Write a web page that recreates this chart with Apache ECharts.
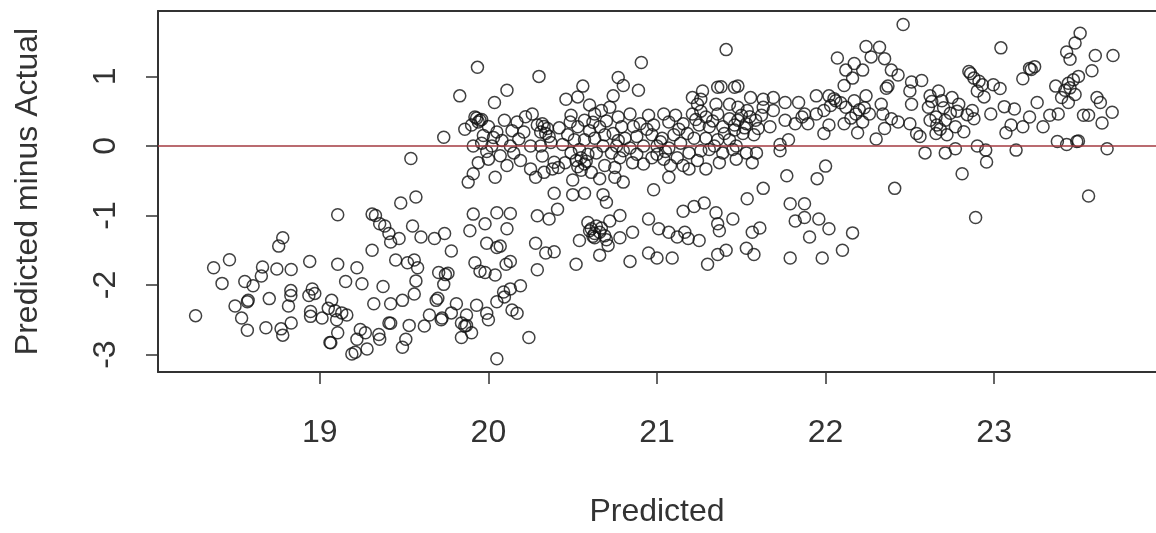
<!DOCTYPE html>
<html>
<head>
<meta charset="utf-8">
<script src="https://cdn.jsdelivr.net/npm/echarts@6/dist/echarts.min.js"></script>
<style>
  html, body { margin: 0; padding: 0; background: #ffffff; }
  #chart { width: 1156px; height: 533px; }
</style>
</head>
<body>
<div id="chart"></div>
<script>
// Residuals (predicted minus actual) against the predicted value.
// Each group is a list of [predicted, predicted - actual] pairs.

const lowFarLeft = [
  [19.106,-0.99],[18.78,-1.32],[18.756,-1.44],[18.464,-1.636],[18.37,-1.752],[18.94,-1.66],
  [19.106,-1.70],[18.66,-1.74],[18.745,-1.77],[18.83,-1.776],[18.42,-1.976],[18.555,-1.95],
  [18.604,-2.01],[18.653,-1.87],[19.153,-1.95],[18.828,-2.08],[18.828,-2.15],[18.70,-2.195],
  [18.575,-2.22],[18.57,-2.24],[18.935,-2.15],[18.97,-2.12],[18.955,-2.056],[19.07,-2.22],
  [18.497,-2.30],[18.536,-2.475],[18.57,-2.65],[18.263,-2.44],[18.814,-2.30],[18.945,-2.38],
  [18.945,-2.45],[19.013,-2.475],[19.05,-2.335],[19.09,-2.37],[19.13,-2.40],[19.16,-2.43],
  [19.10,-2.50],[19.106,-2.685],[19.06,-2.825],[19.065,-2.83],[18.68,-2.615],[18.77,-2.63],
  [18.78,-2.72],[18.83,-2.545],[19.19,-2.99]
];

const lowLeft = [
  [19.48,-0.82],[19.57,-0.735],[19.31,-0.98],[19.33,-1.0],[19.355,-1.12],[19.385,-1.15],
  [19.41,-1.26],[19.42,-1.38],[19.47,-1.33],[19.55,-1.15],[19.60,-1.31],[19.68,-1.33],
  [19.74,-1.26],[19.31,-1.50],[19.45,-1.64],[19.52,-1.68],[19.56,-1.64],[19.58,-1.75],
  [19.57,-1.94],[19.25,-1.98],[19.375,-2.02],[19.56,-2.13],[19.49,-2.22],[19.42,-2.27],
  [19.32,-2.27],[19.41,-2.545],[19.42,-2.55],[19.53,-2.58],[19.62,-2.59],[19.65,-2.43],
  [19.69,-2.22],[19.70,-2.19],[19.725,-2.475],[19.72,-2.50],[19.78,-2.40],[19.81,-2.27],
  [19.84,-2.545],[19.86,-2.59],[19.87,-2.58],[19.84,-2.755],[19.90,-2.685],[19.87,-2.43],
  [19.93,-2.29],[19.99,-2.405],[20.0,-2.50],[20.05,-2.24],[20.09,-2.10],[20.13,-2.055],
  [20.19,-2.01],[20.14,-2.36],[20.17,-2.405],[20.24,-2.755],[20.05,-3.06],[19.24,-2.64],
  [19.27,-2.685],[19.22,-2.78],[19.28,-2.92],[19.21,-2.965],[19.355,-2.78],[19.35,-2.71],
  [19.51,-2.78],[19.49,-2.895],[19.705,-1.82],[19.745,-1.85],[19.76,-1.83],[19.735,-1.99],
  [19.78,-1.51],[19.91,-0.98],[19.98,-1.12],[20.05,-0.96],[20.13,-0.97],[19.89,-1.22],
  [20.11,-1.19],[19.99,-1.40],[20.05,-1.46],[20.07,-1.44],[19.92,-1.68],[19.95,-1.80],
  [19.98,-1.82],[20.04,-1.855],[20.105,-1.70],[20.13,-1.66],[20.29,-1.005],[20.28,-1.40],
  [20.29,-1.78],[20.095,-2.17],[19.22,-1.75]
];

const bandLeft = [
  [19.935,1.13],[19.83,0.72],[20.036,0.625],[20.11,0.80],[19.735,0.126],[19.54,-0.18],
  [20.30,1.0],[19.92,0.415],[19.94,0.345],[19.93,0.40],[19.95,0.37],[19.96,0.38],[19.90,0.30],
  [19.86,0.24],[19.91,0.0],[19.96,0.04],[20.02,0.0],[20.05,0.2],[20.095,0.37],[20.0,0.28],
  [20.03,0.12],[19.99,-0.08],[20.07,-0.14],[20.13,0.0],[20.15,-0.10],[20.11,-0.28],
  [20.04,-0.45],[19.91,-0.40],[19.88,-0.52],[19.94,-0.24],[20.0,-0.19],[20.17,0.345],
  [20.26,0.46],[20.29,0.30],[20.21,0.2],[20.25,0.0],[20.19,-0.21],[20.25,-0.33],
  [20.28,-0.45],[20.22,0.42],[20.14,0.22],[20.08,0.08],[19.97,0.15],[20.18,0.10]
];

const bandMiddle = [
  [20.907,1.20],[21.41,1.385],[20.77,0.985],[20.80,0.87],[20.89,0.80],[20.56,0.86],
  [20.74,0.72],[20.46,0.67],[20.53,0.705],[21.27,0.79],[21.36,0.845],[21.38,0.85],
  [21.46,0.845],[21.24,0.60],[20.60,0.59],[20.49,0.44],[20.95,0.44],[21.04,0.46],
  [20.32,0.32],[20.35,0.25],[20.31,0.2],[20.36,0.135],[20.31,0.0],[20.32,-0.145],
  [20.39,-0.235],[20.38,-0.33],[20.33,-0.38],[20.485,0.345],[20.53,0.275],[20.57,0.37],
  [20.63,0.46],[20.67,0.51],[20.66,0.275],[20.47,0.16],[20.51,0.09],[20.57,0.09],
  [20.63,0.11],[20.54,-0.05],[20.49,-0.1],[20.59,-0.12],[20.64,-0.1],[20.52,-0.21],
  [20.57,-0.26],[20.455,-0.24],[20.415,-0.31],[20.55,-0.35],[20.50,-0.49],[20.66,-0.47],
  [20.61,-0.38],[20.69,-0.28],[20.68,0.0],[20.69,0.16],[20.72,0.555],[20.77,0.415],
  [20.84,0.46],[20.90,0.32],[20.79,0.275],[20.74,0.18],[20.81,0.11],[20.88,0.135],
  [20.76,0.0],[20.84,-0.03],[20.92,0.0],[20.78,-0.17],[20.855,-0.24],[20.88,-0.12],
  [20.75,-0.31],[20.75,-0.45],[20.80,-0.52],[20.92,-0.26],[20.98,0.30],[21.07,0.345],
  [21.155,0.32],[21.11,0.44],[20.97,0.16],[21.03,0.11],[21.10,0.16],[21.14,0.04],
  [21.0,0.0],[21.07,-0.03],[20.97,-0.17],[21.04,-0.19],[21.12,-0.17],[21.08,-0.28],
  [21.07,-0.45],[21.155,-0.28],[21.21,0.695],[21.26,0.67],[21.35,0.60],[21.43,0.60],
  [21.21,0.46],[21.29,0.415],[21.36,0.46],[21.43,0.39],[21.25,0.30],[21.31,0.275],
  [21.39,0.275],[21.46,0.23],[21.22,0.11],[21.29,0.11],[21.36,0.09],[21.43,0.09],
  [21.19,-0.10],[21.26,-0.07],[21.31,-0.05],[21.39,-0.10],[21.45,-0.05],[21.19,-0.33],
  [21.29,-0.33],[21.37,-0.24],[21.24,-0.21],[20.33,0.28],[20.34,0.18],[20.37,0.05],
  [20.55,-0.17],[20.58,-0.22],[20.53,-0.30],[20.77,0.08],[20.80,-0.07],[20.73,-0.10],
  [21.02,0.06],[21.05,-0.08],[21.0,-0.12],[21.23,0.38],[21.26,0.50],[21.33,0.36],
  [20.60,0.22],[20.44,0.02],[20.42,0.26],[20.86,0.28],[20.94,0.24],[21.13,0.24],
  [21.18,0.18],[21.40,0.18],[21.34,0.0],[20.70,0.36],[20.62,0.34]
];

const lowMiddle = [
  [20.39,-0.68],[20.50,-0.70],[20.57,-0.68],[20.68,-0.70],[20.70,-0.81],[20.98,-0.63],
  [20.41,-0.91],[20.36,-1.05],[20.59,-1.10],[20.61,-1.19],[20.64,-1.15],[20.66,-1.24],
  [20.69,-1.29],[20.72,-1.08],[20.78,-1.0],[20.78,-1.32],[20.855,-1.24],[20.54,-1.36],
  [20.63,-1.32],[20.71,-1.43],[20.66,-1.57],[20.52,-1.70],[20.84,-1.66],[20.95,-1.05],
  [21.01,-1.19],[21.07,-1.24],[21.12,-1.31],[21.165,-1.24],[21.185,-1.33],[21.25,-1.36],
  [21.155,-0.94],[21.22,-0.87],[21.28,-0.82],[21.35,-0.96],[21.36,-1.12],[21.37,-1.22],
  [21.45,-1.05],[20.95,-1.54],[21.0,-1.61],[21.09,-1.61],[21.30,-1.70],[21.36,-1.56],
  [21.41,-1.50],[20.34,-1.54],[20.39,-1.52],[20.60,-1.22],[20.63,-1.26],[20.67,-1.18],
  [20.62,-1.30],[20.70,-1.35],[21.63,-0.61],[21.535,-0.76],[21.565,-1.24],[21.61,-1.18],
  [21.53,-1.47],[21.575,-1.56],[21.79,-0.83],[21.875,-0.83],[21.875,-1.03],[21.82,-1.08],
  [21.96,-1.05],[22.02,-1.19],[21.905,-1.31],[22.16,-1.25],[21.79,-1.61],[21.98,-1.61],
  [22.10,-1.50]
];

const bandRight = [
  [22.46,1.745],[22.24,1.43],[22.32,1.42],[22.27,1.28],[22.35,1.255],[22.07,1.265],
  [22.17,1.185],[22.12,1.09],[22.22,1.09],[22.16,0.975],[22.11,0.87],[22.39,1.09],
  [22.43,1.02],[22.37,0.86],[22.36,0.83],[22.57,0.94],[22.51,0.92],[22.50,0.79],
  [22.51,0.60],[21.48,0.86],[22.62,0.72],[22.63,0.64],[21.945,0.72],[22.02,0.72],
  [22.06,0.65],[22.03,0.58],[22.24,0.72],[22.17,0.65],[22.12,0.555],[22.18,0.46],
  [22.26,0.46],[22.22,0.345],[22.11,0.32],[22.02,0.30],[21.99,0.18],[22.19,0.19],
  [22.33,0.60],[22.34,0.46],[22.39,0.39],[22.43,0.345],[22.35,0.25],[22.30,0.10],
  [22.50,0.32],[22.54,0.18],[22.56,0.135],[22.59,-0.10],[22.62,0.37],[21.76,0.625],
  [21.84,0.625],[21.875,0.46],[21.82,0.32],[21.895,0.32],[21.86,0.415],[21.69,0.695],
  [21.63,0.67],[21.555,0.695],[21.63,0.555],[21.69,0.51],[21.48,0.555],[21.535,0.51],
  [21.48,0.37],[21.53,0.32],[21.585,0.37],[21.51,0.18],[21.575,0.16],[21.67,0.275],
  [21.76,0.37],[21.78,0.09],[21.73,0.02],[21.73,-0.07],[21.47,0.0],[21.53,-0.1],
  [21.59,-0.10],[21.47,-0.19],[21.565,-0.24],[21.77,-0.43],[22.0,-0.29],[21.95,-0.47],
  [22.41,-0.61],[21.945,0.46],[21.99,0.51],[22.61,0.555],[22.655,0.18],[21.50,0.44],
  [21.52,0.26],[21.46,0.30],[21.55,0.42],[21.60,0.25],[21.62,0.44],[22.05,0.68],
  [22.09,0.62],[22.20,0.52],[22.15,0.40],[22.23,0.55]
];

const bandFarRight = [
  [23.51,1.62],[23.48,1.48],[23.43,1.35],[23.45,1.245],[23.60,1.30],[23.705,1.30],
  [23.04,1.41],[23.58,1.08],[23.50,1.0],[23.47,0.95],[23.45,0.835],[23.365,0.86],
  [23.40,0.695],[23.44,0.625],[23.48,0.74],[23.61,0.695],[23.63,0.625],[23.70,0.485],
  [23.64,0.33],[23.53,0.44],[23.56,0.44],[23.38,0.46],[23.33,0.44],[23.29,0.275],
  [23.375,0.065],[23.43,0.02],[23.49,0.065],[23.50,0.07],[23.67,-0.04],[23.21,1.115],
  [23.24,1.14],[23.17,0.965],[23.255,0.625],[23.21,0.415],[23.17,0.275],[23.10,0.30],
  [23.07,0.19],[23.13,-0.06],[23.12,0.53],[23.06,0.565],[22.98,0.46],[22.85,1.07],
  [22.88,0.975],[22.93,0.88],[22.995,0.88],[23.035,0.825],[22.90,0.79],[22.94,0.705],
  [22.67,0.79],[22.75,0.695],[22.79,0.60],[22.69,0.65],[22.87,0.51],[22.88,0.39],
  [22.82,0.205],[22.71,0.37],[22.655,0.415],[22.72,0.16],[22.77,0.275],[22.71,-0.10],
  [22.77,-0.04],[22.90,0.0],[22.95,-0.06],[22.955,-0.23],[22.81,-0.40],[23.56,-0.72],
  [22.89,-1.03],[22.86,1.04],[22.91,0.93],[23.22,1.10],[23.44,0.90],[23.42,0.80],
  [22.70,0.55],[22.74,0.47],[22.66,0.30],[22.84,0.45],[22.78,0.50],[22.68,0.24]
];

const xTickValues = [19, 20, 21, 22, 23];
const yTickValues = [-3, -2, -1, 0, 1];
const referenceLevel = 0;

const points = [].concat(lowFarLeft, lowLeft, bandLeft, bandMiddle, lowMiddle, bandRight, bandFarRight);

const FONT = '"Liberation Sans", Arial, Helvetica, sans-serif';
const INK = '#333333';
const textStyle = { fontFamily: FONT, fontSize: 32, color: '#333333' };

const chart = echarts.init(document.getElementById('chart'), null, { renderer: 'canvas' });

chart.setOption({
  animation: false,
  backgroundColor: '#ffffff',
  grid: { left: 158, right: -16, top: 11, bottom: 150, containLabel: false },
  xAxis: [
    {
      type: 'value',
      min: 18.04,
      max: 23.96,
      position: 'bottom',
      name: 'Predicted',
      nameLocation: 'middle',
      nameGap: 124,
      nameTextStyle: textStyle,
      axisLine: { show: true, onZero: false, lineStyle: { color: INK, width: 2 } },
      axisTick: { show: true, length: 12, customValues: xTickValues, lineStyle: { color: INK, width: 1.5 } },
      axisLabel: Object.assign({ customValues: xTickValues, margin: 45 }, textStyle),
      splitLine: { show: false }
    },
    {
      type: 'value',
      min: 18.04,
      max: 23.96,
      position: 'top',
      axisLine: { show: true, onZero: false, lineStyle: { color: INK, width: 2 } },
      axisTick: { show: false },
      axisLabel: { show: false },
      splitLine: { show: false }
    }
  ],
  yAxis: {
    type: 'value',
    min: -3.25,
    max: 1.94,
    name: 'Predicted minus Actual',
    nameLocation: 'middle',
    nameGap: 114,
    nameRotate: 90,
    nameTextStyle: textStyle,
    axisLine: { show: true, onZero: false, lineStyle: { color: INK, width: 2 } },
    axisTick: { show: true, length: 12, customValues: yTickValues, lineStyle: { color: INK, width: 1.5 } },
    axisLabel: Object.assign({ customValues: yTickValues, rotate: 90, margin: 36 }, textStyle),
    splitLine: { show: false }
  },
  series: [
    {
      type: 'scatter',
      xAxisIndex: 0,
      data: points,
      symbol: 'circle',
      symbolSize: 12,
      silent: true,
      itemStyle: { color: 'rgba(0,0,0,0)', borderColor: '#111111', borderWidth: 1.5 },
      emphasis: { disabled: true },
      markLine: {
        silent: true,
        symbol: ['none', 'none'],
        label: { show: false },
        lineStyle: { color: '#a33a40', width: 1.6, type: 'solid' },
        data: [{ yAxis: referenceLevel }]
      }
    }
  ]
});
</script>
</body>
</html>
